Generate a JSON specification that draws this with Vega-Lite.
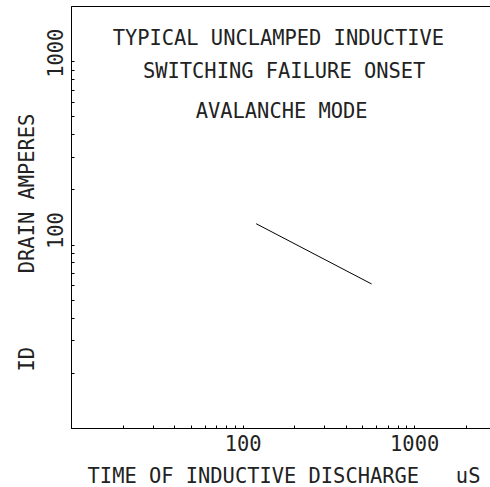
{
  "$schema": "https://vega.github.io/schema/vega-lite/v6.json",
  "width": 425,
  "height": 422,
  "autosize": {"type": "none"},
  "padding": {"left": 71, "top": 6, "right": 0, "bottom": 59},
  "background": "white",
  "config": {
    "view": {"stroke": "black", "strokeWidth": 1},
    "font": "DejaVu Sans Mono",
    "axis": {
      "grid": false,
      "domainColor": "black",
      "domainWidth": 1,
      "tickColor": "black",
      "tickWidth": 1,
      "tickSize": -3,
      "labelFont": "DejaVu Sans Mono",
      "labelFontSize": 20.4,
      "labelColor": "#222",
      "labelOverlap": false,
      "labelFlush": false,
      "titleFont": "DejaVu Sans Mono",
      "titleFontSize": 20.4,
      "titleFontWeight": "normal",
      "titleColor": "#222"
    }
  },
  "datasets": {
    "curve": [
      {"t": 120, "id": 130},
      {"t": 565, "id": 61}
    ],
    "notes": [
      {"t": 161.7, "id": 1233, "label": "TYPICAL UNCLAMPED INDUCTIVE"},
      {"t": 174.7, "id": 812, "label": "SWITCHING FAILURE ONSET"},
      {"t": 169, "id": 491, "label": "AVALANCHE MODE"}
    ]
  },
  "layer": [
    {
      "data": {"name": "curve"},
      "mark": {"type": "line", "color": "black", "strokeWidth": 1},
      "encoding": {
        "x": {
          "field": "t",
          "type": "quantitative",
          "scale": {"type": "log", "domain": [10, 3000], "nice": false},
          "axis": {
            "title": "TIME OF INDUCTIVE DISCHARGE\u00a0\u00a0\u00a0uS",
            "values": [20, 30, 40, 50, 60, 70, 80, 90, 100, 200, 300, 400, 500, 600, 700, 800, 900, 1000, 2000],
            "format": "d",
            "labelExpr": "datum.value == 100 || datum.value == 1000 ? datum.label : ''",
            "labelBaseline": "alphabetic",
            "labelPadding": 25,
            "titleY": 54,
            "titleBaseline": "alphabetic"
          }
        },
        "y": {
          "field": "id",
          "type": "quantitative",
          "scale": {"type": "log", "domain": [10, 2000], "nice": false},
          "axis": {
            "title": "ID\u00a0\u00a0\u00a0\u00a0\u00a0\u00a0DRAIN AMPERES",
            "values": [20, 30, 40, 50, 60, 70, 80, 90, 100, 200, 300, 400, 500, 600, 700, 800, 900, 1000],
            "format": "d",
            "labelExpr": "datum.value == 100 || datum.value == 1000 ? datum.label : ''",
            "labelAngle": 270,
            "labelAlign": "right",
            "labelBaseline": "alphabetic",
            "labelOffset": -33,
            "labelPadding": 12,
            "titleAngle": 270,
            "titleX": -38,
            "titleY": 236,
            "titleAlign": "center",
            "titleBaseline": "alphabetic"
          }
        }
      }
    },
    {
      "data": {"name": "notes"},
      "mark": {"type": "text", "font": "DejaVu Sans Mono", "fontSize": 20.4, "align": "center", "baseline": "alphabetic", "color": "#222"},
      "encoding": {
        "x": {"field": "t", "type": "quantitative"},
        "y": {"field": "id", "type": "quantitative"},
        "text": {"field": "label"}
      }
    }
  ]
}
